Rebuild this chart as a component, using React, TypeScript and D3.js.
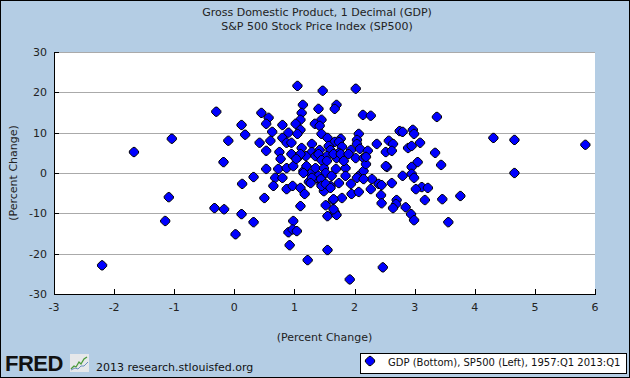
import React from "react";
import * as d3 from "d3";

const titleLines = ["Gross Domestic Product, 1 Decimal (GDP)", "S&P 500 Stock Price Index (SP500)"];
const xTicks = [-3, -2, -1, 0, 1, 2, 3, 4, 5, 6];
const yTicks = [-30, -20, -10, 0, 10, 20, 30];
const xAxisTitle = "(Percent Change)";
const yAxisTitle = "(Percent Change)";
const legendLabel = "GDP (Bottom), SP500 (Left), 1957:Q1 2013:Q1";
const creditText = "2013 research.stlouisfed.org";

// GDP % change (x), SP500 % change (y)
const gdp: number[] = [
  -2.2, -1.67, -1.04, -0.3, 0.12, 0.18, -0.1, -0.18, 0.32, 0.13, -1.09, -0.33, -0.17, 0.12, -1.15, 0.32, 0.02,
  4.31, 4.66, 5.84, 3.44, 4.66, 3.46, 3.76, 3.56, 3.37,
  1.05, 1.47, 2.02, 1.14, 1.7, 1.67, 1.4, 0.45, 1.12, 0.57, 2.14, 2.27, 1.1, 1.45, 0.53, 1.02, 0.8, 1.34, 1.42,
  1.1, 0.63, 0.9, 1.05, 1.45, 2.07, 2.75, 2.8, 2.97, 2.99, 0.8, 1.55, 1.77, 2.04, 0.6, 0.42, 0.87, 0.95, 1.67,
  1.74, 2.57, 2.04, 2.37, 2.64, 3.09, 1.29, 1.57, 1.79, 2.89, 2.95, 1.12, 0.53, 0.75, 0.95, 1.29, 1.42, 1.6,
  1.74, 1.94, 2.09, 2.22, 2.52, 2.62, 3.34, 0.77, 1.07, 1.19, 1.35, 1.54, 1.7, 2.02, 2.15, 3.05, 2.54, 2.95,
  0.53, 0.73, 0.68, 0.8, 0.87, 0.98, 1.15, 1.27, 1.35, 1.49, 1.52, 1.37, 1.24, 1.45, 1.62, 1.69, 1.85, 1.85,
  1.74, 1.94, 2.07, 2.15, 2.19, 2.29, 2.4, 2.45, 2.52, 2.62, 2.8, 2.95, 2.99, 3.12, 3.22, 3.02, 0.5, 0.87,
  0.97, 1.1, 1.17, 1.1, 0.98, 0.9, 0.97, 1.04, 0.92, 1.22, 1.49, 1.6, 1.52, 1.64, 1.79, 1.55, 1.67, 1.7, 1.55,
  1.95, 2.07, 2.27, 2.44, 2.7, 2.69, 2.64, 2.85, 2.94, 2.99, 3.17, 1.92, 2.47,
  1.1, 1.4, 1.03, 1.45, 1.2, 1.15, 1.4, 1.29, 1.44, 1.27, 0.65, 1.45, 1.65, 1.77, 1.9, 2.19, 1.54, 1.82,
  2.04, 2.15, 1.52, 1.6, 1.65, 1.65, 2.45,
];
const sp500: number[] = [
  -22.9, 5.2, 8.5, 15.2, 11.9, 9.5, 8.0, 2.7, -1.0, -2.7, -6.0, -8.7, -9.0, -10.2, -11.9, -12.2, -15.2,
  8.7, 8.2, 7.0, 2.0, 0.0, -6.5, -5.7, -12.2, 13.9,
  21.6, 20.4, 20.9, 16.9, 16.9, 15.9, 15.9, 14.9, 14.9, 13.7, 14.4, 14.2, 13.2, 13.2, 12.2, 12.2, 11.9, 12.2, 11.7,
  10.7, 10.2, 10.0, 9.7, 9.7, 9.7, 10.4, 10.2, 10.7, 9.7, 8.7, 8.7, 8.5, 8.2, 8.0, 7.5, 7.5, 7.5, 7.7,
  7.7, 8.0, 7.2, 7.2, 7.2, 7.5, 7.2, 6.7, 6.5, 6.2, 6.7, 6.2, 5.5, 5.2, 4.7, 5.2, 5.7, 5.7,
  5.0, 5.7, 6.0, 5.5, 5.2, 5.5, 5.0, 3.5, 4.0, 4.2, 4.2, 4.2, 3.7, 3.7, 3.7, 2.7, 1.5, 1.5,
  1.0, 1.0, -1.2, -1.2, 1.2, 1.7, 0.5, -0.2, 1.2, 1.2, 0.0, -1.2, -2.2, -2.7, -0.7, 1.0, 1.2, -0.7,
  -2.5, -2.7, -0.7, 0.5, 2.2, -1.5, -2.7, -3.0, 1.7, -2.5, -0.7, -0.2, -1.2, -3.5, -3.7, -4.0, -6.2, -4.0,
  -3.2, -3.7, -5.2, -8.2, -11.9, -14.7, -14.0, -14.4, -17.9, -21.6, -4.5, -3.2, -8.0, -6.7, -6.2, -10.7, -9.7, -10.4, -19.1,
  -5.2, -4.7, -4.0, -5.5, -6.7, -7.7, -8.7, -8.5, -10.2, -11.7, -6.7, -26.4, -23.4,
  4.7, 4.7, 3.5, 3.2, 1.7, 0.0, -0.7, -1.2, -1.5, -2.5, -3.2, -3.2, 4.7, 4.7, 4.7, 4.0, 3.0, 3.0,
  -1.2, -1.5, -2.7, -3.7, -6.5, -9.0, -7.5,
];

const W = 630;
const H = 378;
const plot = { left: 54, right: 595, top: 52, bottom: 294 };
const BG = "#b4cde4";
const FONT = "DejaVu Sans, Verdana, sans-serif";

const marker = "M-1,-4.6 L1,-4.6 L4.6,-1 L4.6,1 L1,4.6 L-1,4.6 L-4.6,1 L-4.6,-1 Z";

export default function App() {
  const x = d3.scaleLinear().domain([-3, 6]).range([plot.left, plot.right]);
  const y = d3.scaleLinear().domain([-30, 30]).range([plot.bottom, plot.top]);
  const pts = gdp.map((g, i) => ({ g, s: sp500[i] }));
  const cx = (plot.left + plot.right) / 2;

  return (
    <svg
      width={W}
      height={H}
      style={{ position: "absolute", left: 0, top: 0, display: "block" }}
      fontFamily={FONT}
    >
      <rect x={0.5} y={0.5} width={W - 1} height={H - 1} fill={BG} stroke="#000" />
      {titleLines.map((t, i) => (
        <text key={t} x={317} y={16 + i * 14} textAnchor="middle" fontSize={11} fill="#222">
          {t}
        </text>
      ))}
      <rect x={plot.left} y={plot.top} width={plot.right - plot.left} height={plot.bottom - plot.top} fill="#fff" />
      {yTicks.filter((t) => t !== -30).map((t) => (
        <line key={"g" + t} x1={plot.left} x2={plot.right} y1={Math.round(y(t)) + 0.5} y2={Math.round(y(t)) + 0.5} stroke="#aaa" />
      ))}
      {/* axes */}
      <line x1={plot.left + 0.5} x2={plot.left + 0.5} y1={plot.top} y2={plot.bottom + 1} stroke="#000" />
      <line x1={plot.left} x2={plot.right + 1} y1={plot.bottom + 0.5} y2={plot.bottom + 0.5} stroke="#000" />
      {yTicks.map((t) => (
        <g key={"y" + t}>
          <line x1={plot.left} x2={plot.left + 5} y1={Math.round(y(t)) + 0.5} y2={Math.round(y(t)) + 0.5} stroke="#000" />
          <text x={plot.left - 7} y={y(t) + 4} textAnchor="end" fontSize={11} fill="#222">
            {t}
          </text>
        </g>
      ))}
      {xTicks.map((t) => (
        <g key={"x" + t}>
          <line x1={Math.round(x(t)) + 0.5} x2={Math.round(x(t)) + 0.5} y1={plot.bottom - 5} y2={plot.bottom} stroke="#000" />
          <text x={x(t)} y={plot.bottom + 17} textAnchor="middle" fontSize={11} fill="#222">
            {t}
          </text>
        </g>
      ))}
      <text x={cx + 0} y={341} textAnchor="middle" fontSize={11} fill="#222">
        {xAxisTitle}
      </text>
      <text transform={`translate(17,${(plot.top + plot.bottom) / 2}) rotate(-90)`} textAnchor="middle" fontSize={11} fill="#222">
        {yAxisTitle}
      </text>
      {/* points */}
      {pts.map((p, i) => (
        <path key={i} d={marker} transform={`translate(${x(p.g)},${y(p.s)})`} fill="#0000ff" stroke="#000" strokeWidth={1} />
      ))}
      {/* FRED logo */}
      <text x={5} y={371} fontFamily="Liberation Sans, Arial, sans-serif" fontWeight="bold" fontSize={22} fill="#111" letterSpacing={-0.5}>
        FRED
      </text>
      <g transform="translate(70,354)">
        <rect x={0} y={0} width={19} height={18} fill="#e6e8ea" />
        <polyline points="1,15 4,12 6,13 9,8 11,10 14,5 17,3" fill="none" stroke="#4a9a3a" strokeWidth={1.3} />
        <polyline points="1,16 5,14 8,15 11,12 14,12 18,8" fill="none" stroke="#6b8fbf" strokeWidth={1} />
      </g>
      <text x={96} y={371} fontSize={11} fill="#111">
        {creditText}
      </text>
      {/* legend */}
      <rect x={360.5} y={353.5} width={266} height={20} fill="#fff" stroke="#000" />
      <path d={marker} transform="translate(370,361)" fill="#0000ff" stroke="#000" />
      <text x={388} y={366} fontSize={10} fill="#111">
        {legendLabel}
      </text>
    </svg>
  );
}
